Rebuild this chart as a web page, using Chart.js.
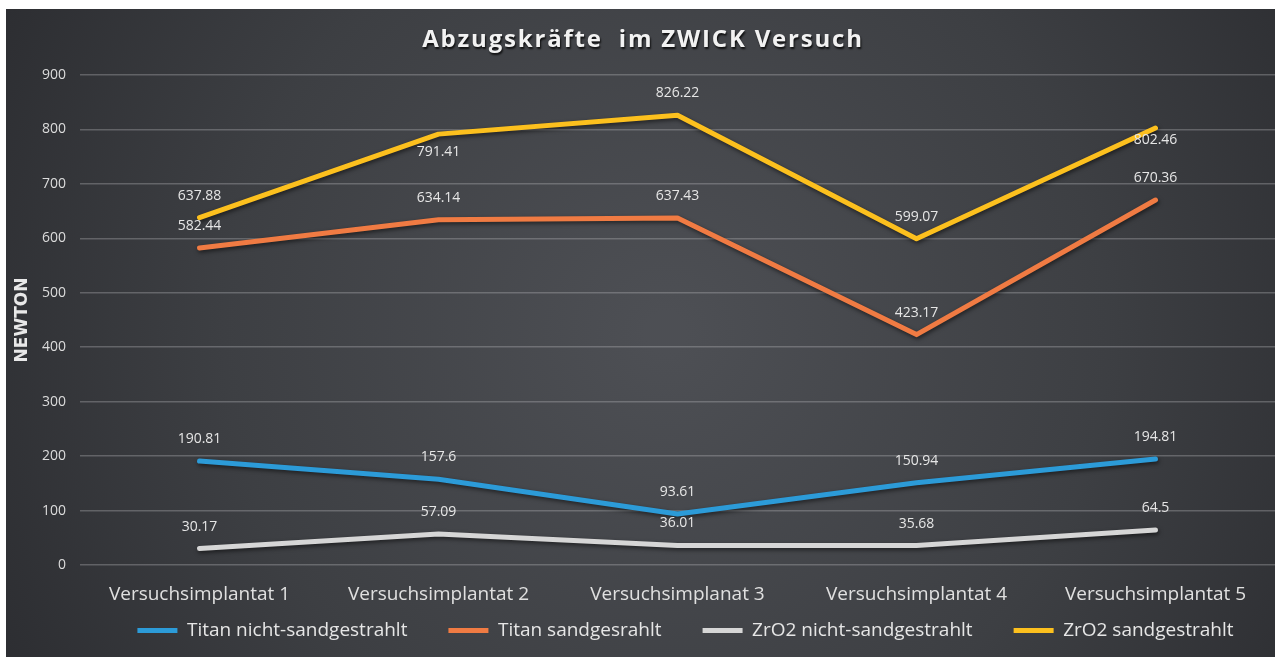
<!DOCTYPE html>
<html>
<head>
<meta charset="utf-8">
<script src="https://cdn.jsdelivr.net/npm/chart.js@4"></script>
<style>
    html, body { margin: 0; padding: 0; background: #fff; }
    #wrap { position: absolute; left: 6px; top: 9px; width: 1269px; height: 648px; }
</style>
</head>
<body>
<div id="wrap"><canvas id="chart" width="1269" height="648"></canvas></div>
<script>
// --- Data ---
const categories = ['Versuchsimplantat 1', 'Versuchsimplantat 2', 'Versuchsimplanat 3', 'Versuchsimplantat 4', 'Versuchsimplantat 5'];
const titanNicht = [190.81, 157.6, 93.61, 150.94, 194.81];
const titanSand = [582.44, 634.14, 637.43, 423.17, 670.36];
const zro2Nicht = [30.17, 57.09, 36.01, 35.68, 64.5];
const zro2Sand = [637.88, 791.41, 826.22, 599.07, 802.46];
const seriesNames = ['Titan nicht-sandgestrahlt', 'Titan sandgesrahlt', 'ZrO2 nicht-sandgestrahlt', 'ZrO2 sandgestrahlt'];
const yMin = 0, yMax = 900, yStep = 100;
const chartTitle = 'Abzugskräfte  im ZWICK Versuch';
const yTitle = 'NEWTON';

const colors = ['#2c9bd8', '#f07b43', '#d6d6d6', '#fcc01e'];
const seriesValues = [titanNicht, titanSand, zro2Nicht, zro2Sand];

// labels that sit below the point instead of above (dataset index -> point index)
const labelBelow = { 3: { 1: 18, 4: 12 } };

const bgPlugin = {
    id: 'bg',
    beforeInit(chart) {
        // shorter legend box so the plot keeps its height
        const legend = chart.legend;
        if (legend) {
            const fit = legend.fit;
            legend.fit = function () {
                fit.call(this);
                this.height = 44;
            };
        }
    },
    afterLayout(chart) {
        // stretch the legend box upwards and move it right, like the original
        const legend = chart.legend;
        if (!legend) return;
        const dx = 45;
        legend.top = 571;
        legend.left += dx;
        legend.right += dx;
    },
    beforeDraw(chart) {
        const { ctx, width, height } = chart;
        ctx.save();
        const g = ctx.createRadialGradient(width * 0.52, height * 0.5, 20, width * 0.52, height * 0.5, width * 0.62);
        g.addColorStop(0, '#4d4f54');
        g.addColorStop(0.55, '#3d3f43');
        g.addColorStop(1, '#2a2b2f');
        ctx.fillStyle = g;
        ctx.fillRect(0, 0, width, height);

        // title with shadow
        ctx.font = 'bold 24px "Open Sans"';
        ctx.textAlign = 'center';
        ctx.textBaseline = 'middle';
        if ('letterSpacing' in ctx) ctx.letterSpacing = '1.8px';
        ctx.shadowColor = 'rgba(0,0,0,0.8)';
        ctx.shadowOffsetX = 1;
        ctx.shadowOffsetY = 2;
        ctx.shadowBlur = 2;
        ctx.fillStyle = '#f2f2f2';
        ctx.fillText(chartTitle, 637, 31);
        ctx.restore();
    }
};

const shadowPlugin = {
    id: 'lineShadow',
    beforeDatasetsDraw(chart) {
        const ctx = chart.ctx;
        ctx.save();
        ctx.shadowColor = 'rgba(0,0,0,0.55)';
        ctx.shadowBlur = 4;
        ctx.shadowOffsetX = 1;
        ctx.shadowOffsetY = 2;
    },
    afterDatasetsDraw(chart) {
        chart.ctx.restore();
    }
};

const valueLabels = {
    id: 'valueLabels',
    afterDatasetsDraw(chart) {
        const ctx = chart.ctx;
        ctx.save();
        ctx.font = '14px "Open Sans"';
        ctx.fillStyle = '#e6e6e6';
        ctx.textAlign = 'center';
        ctx.textBaseline = 'middle';
        chart.data.datasets.forEach((ds, di) => {
            const meta = chart.getDatasetMeta(di);
            meta.data.forEach((pt, i) => {
                const below = labelBelow[di] && labelBelow[di][i];
                const dy = below ? below : -22;
                ctx.fillText(String(ds.data[i]), pt.x, pt.y + dy);
            });
        });
        ctx.restore();
    }
};

const ctx = document.getElementById('chart').getContext('2d');
new Chart(ctx, {
    type: 'line',
    data: {
        labels: categories,
        datasets: seriesNames.map((name, i) => ({
            label: name,
            data: seriesValues[i],
            borderColor: colors[i],
            backgroundColor: colors[i],
            borderWidth: 5,
            borderCapStyle: 'round',
            borderJoinStyle: 'round',
            pointRadius: 0,
            pointHoverRadius: 0,
            tension: 0,
            fill: false
        }))
    },
    options: {
        responsive: false,
        animation: false,
        events: [],
        layout: { padding: { top: 66, left: 0, right: 0, bottom: 6 } },
        plugins: {
            title: { display: false },
            tooltip: { enabled: false },
            legend: {
                position: 'bottom',
                labels: {
                    color: '#e6e6e6',
                    font: { family: 'Open Sans', size: 19 },
                    boxWidth: 40,
                    boxHeight: 5,
                    padding: 41,
                    generateLabels(chart) {
                        return chart.data.datasets.map((ds, i) => ({
                            text: ds.label,
                            fillStyle: ds.borderColor,
                            strokeStyle: ds.borderColor,
                            lineWidth: 0,
                            fontColor: '#e6e6e6',
                            datasetIndex: i
                        }));
                    }
                }
            }
        },
        scales: {
            x: {
                offset: true,
                afterFit(scale) { scale.height = 42; },
                grid: { display: false, drawTicks: false },
                border: { display: false },
                ticks: {
                    color: '#e0e0e0',
                    font: { family: 'Open Sans', size: 19 },
                    padding: 18,
                    maxRotation: 0,
                    autoSkip: false
                }
            },
            y: {
                min: yMin,
                max: yMax,
                afterFit(scale) { scale.width = 74; },
                grid: { color: 'rgba(190,190,195,0.33)', lineWidth: 1.5, drawTicks: false },
                border: { display: false },
                ticks: {
                    stepSize: yStep,
                    color: '#dcdcdc',
                    font: { family: 'Open Sans', size: 14 },
                    padding: 14
                },
                title: {
                    display: true,
                    text: yTitle,
                    color: '#e8e8e8',
                    font: { family: 'DejaVu Sans', size: 17, weight: 'bold' },
                    padding: { top: 6, bottom: 0 }
                }
            }
        }
    },
    plugins: [bgPlugin, shadowPlugin, valueLabels]
});
</script>
</body>
</html>
